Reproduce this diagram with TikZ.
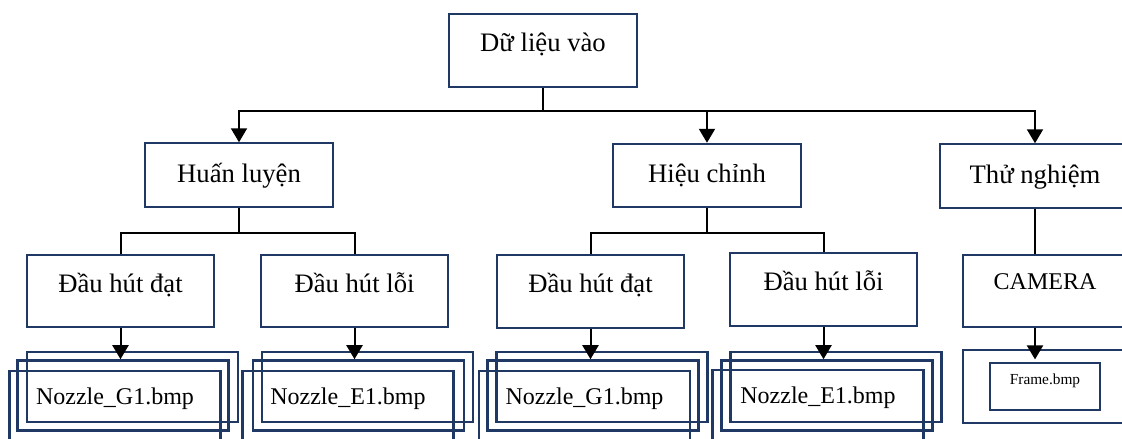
\documentclass[tikz,border=0pt]{standalone}
\usepackage{fontspec}
\setmainfont{Liberation Serif}
\usepackage{xcolor}
\usepackage{tikz}
\usetikzlibrary{arrows.meta, positioning}
\definecolor{boxnavy}{RGB}{31,56,100}

\begin{document}
\begin{tikzpicture}[
  x=0.75pt, y=-0.75pt,
  base/.style    = {draw=boxnavy, line width=1.6pt, inner sep=0pt},
  topbox/.style  = {base, minimum width=141pt, minimum height=54.5pt,
                    font=\fontsize{20}{24}\selectfont,
                    text height=10pt, text depth=8.5pt},
  midbox/.style  = {base, minimum width=141pt, minimum height=47.5pt,
                    font=\fontsize{20}{24}\selectfont,
                    text height=14pt, text depth=3.5pt},
  stack/.style   = {draw=boxnavy, line width=1.9pt, inner sep=0pt,
                    minimum width=158.25pt, minimum height=52.5pt,
                    font=\fontsize{18}{22}\selectfont,
                    text height=9pt, text depth=12pt},
  framebox/.style= {draw=boxnavy, line width=0.8pt, inner sep=0pt,
                    minimum width=82.5pt, minimum height=35.25pt,
                    font=\fontsize{11.5}{14}\selectfont,
                    text height=6pt, text depth=9.5pt},
  link/.style    = {line width=1.5pt},
  arr/.style     = {-{Triangle[length=10.5pt, width=12pt]}, line width=1.5pt},
]
\useasboundingbox (0,0) rectangle (1122,439);
\clip (0,0) rectangle (1122,439);

% root
\node[topbox] (dl) at (543,50.5) {Dữ liệu vào};

% second level
\node[midbox] (hl) at (239,175)    {Huấn luyện};
\node[midbox] (hc) at (707,175.5)  {Hiệu chỉnh};
\node[midbox, minimum width=142.5pt] (tn) at (1035,176) {Thử nghiệm};

% third level
\node[topbox, minimum width=140.25pt] (dg1) at (120.5,291) {Đầu hút đạt};
\node[topbox, minimum width=140.25pt] (de1) at (354.5,291) {Đầu hút lỗi};
\node[topbox, minimum width=140.25pt] (dg2) at (590.5,291.5) {Đầu hút đạt};
\node[topbox, minimum width=140.25pt] (de2) at (823.5,289.5) {Đầu hút lỗi};
\node[topbox, minimum width=123pt, font=\fontsize{18}{22}\selectfont,
      text height=9pt, text depth=12pt] (cam) at (1045,291) {CAMERA};

% image stacks
\node[stack] (k1) at (132.5,387)   {};
\node[stack] (m1) at (123,395.5)   {};
\node[stack] (f1) at (115,406)     {Nozzle\_G1.bmp};
\node[stack] (k2) at (367.5,387)   {};
\node[stack] (m2) at (358.5,395.5) {};
\node[stack] (f2) at (348,406)     {Nozzle\_E1.bmp};
\node[stack] (k3) at (602,387)     {};
\node[stack] (m3) at (593,395.5)   {};
\node[stack] (f3) at (584.5,406)   {Nozzle\_G1.bmp};
\node[stack] (k4) at (836,387)     {};
\node[stack] (m4) at (827,395.5)   {};
\node[stack] (f4) at (818,405)     {Nozzle\_E1.bmp};

% camera frame
\node[base, line width=1.9pt, minimum width=123pt, minimum height=54.75pt] (fo) at (1045,386.5) {};
\node[framebox] (fi) at (1045,386.5) {Frame.bmp};

% root -> branches
\draw[link] (dl.south) -- ++(0,23.5) coordinate (b0);
\draw[arr] (b0) -| (hl.north);
\draw[arr] (b0) -| (hc.north);
\draw[arr] (b0) -| (tn.north);

% Huan luyen
\draw[link] (hl.south) -- ++(0,25) coordinate (b1);
\draw[link] (b1) -| (dg1.north);
\draw[link] (b1) -| (de1.north);

% Hieu chinh
\draw[link] (hc.south) -- ++(0,24.5) coordinate (b2);
\draw[link] (b2) -| (dg2.north);
\draw[link] (b2) -| (de2.north);

% Thu nghiem
\draw[link] (tn.south) -- (tn.south |- cam.north);

% leaves -> images
\draw[arr] (dg1.south) -- (dg1.south |- m1.north);
\draw[arr] (de1.south) -- (de1.south |- m2.north);
\draw[arr] (dg2.south) -- (dg2.south |- m3.north);
\draw[arr] (de2.south) -- (de2.south |- m4.north);
\draw[arr, shorten >=-8pt] (tn.south |- cam.south) -- (tn.south |- fo.north);

\end{tikzpicture}
\end{document}
